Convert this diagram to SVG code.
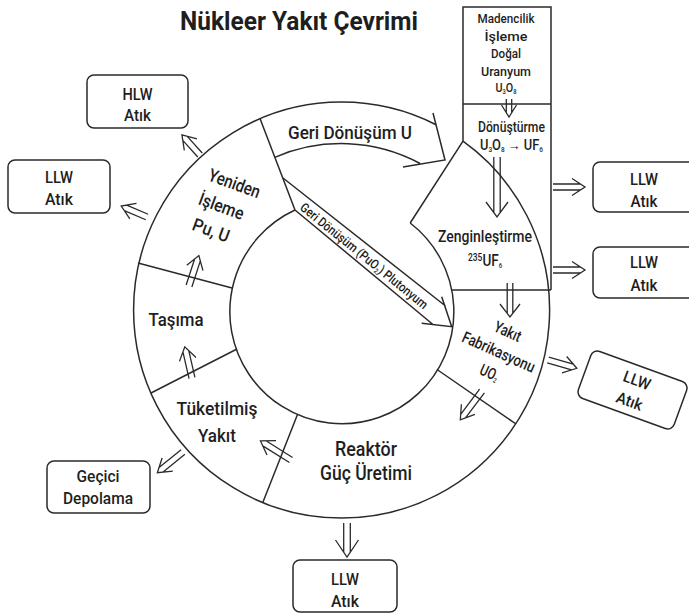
<svg xmlns="http://www.w3.org/2000/svg" xmlns:xlink="http://www.w3.org/1999/xlink" width="689" height="614" viewBox="0 0 689 614">
<style>
.ln{fill:none;stroke:#2a2a2a;stroke-width:1.5}
.box{fill:#fff;stroke:#2a2a2a;stroke-width:1.5}
.ar{fill:none;stroke:#2a2a2a;stroke-width:1.3}
text{font-family:Roboto,"Liberation Sans Narrow","Liberation Sans",Arial,sans-serif;font-weight:500;fill:#1e1e1e;text-anchor:middle}
.st{text-anchor:start}
.f13{font-size:13px}.f14{font-size:14px}.f16{font-size:16px}.f18{font-size:18px}.f19{font-size:18.5px}.f20{font-size:20px}
.sub{font-size:7px}
</style>
<defs>
<path id="a27" class="ar" d="M0,-3H22.4M0,3H22.4M14,-8.5L27,0L14,8.5"/>
<path id="a28" class="ar" d="M0,-3H23.4M0,3H23.4M15,-8.5L28,0L15,8.5"/>
<path id="a30" class="ar" d="M0,-3H25.4M0,3H25.4M17,-8.5L30,0L17,8.5"/>
<path id="a32" class="ar" d="M0,-3H27.4M0,3H27.4M19,-8.5L32,0L19,8.5"/>
<path id="a33" class="ar" d="M0,-3H28.4M0,3H28.4M20,-8.5L33,0L20,8.5"/>
<path id="a36" class="ar" d="M0,-3H31.4M0,3H31.4M23,-8.5L36,0L23,8.5"/>
</defs>
<rect width="689" height="614" fill="#fff"/>

<g id="title">
<text x="299" y="29.5" style="font-size:26px;font-weight:bold" textLength="238" lengthAdjust="spacingAndGlyphs">Nükleer Yakıt Çevrimi</text>
</g>

<g id="ring">
<path class="ln" d="M463,141.2 A208,208 0 1,1 436,124.75"/>
<path class="ln" d="M410.2,223 A112,112 0 1,1 295,210"/>
<path class="ln" d="M260,118.5 L295,210 M138,263 L232,288 M151,393 L237,349 M263,502 L297.5,414.5 M437,369.5 L516,424 M451.5,290 H551 M463,141.2 L410.2,223"/>
</g>

<g id="madencilik">
<path class="ln" d="M463,141.2 V7 H551 V290 M463,104 H551"/>
<text class="f13" x="506" y="23" textLength="57" lengthAdjust="spacingAndGlyphs">Madencilik</text>
<text class="f13" x="506" y="40.5" textLength="43" lengthAdjust="spacingAndGlyphs">İşleme</text>
<text class="f13" x="506" y="58" textLength="30" lengthAdjust="spacingAndGlyphs">Doğal</text>
<text class="f13" x="506" y="75.5" textLength="50" lengthAdjust="spacingAndGlyphs">Uranyum</text>
<text class="f13" x="506" y="92" textLength="21" lengthAdjust="spacingAndGlyphs">U<tspan class="sub" dy="2">3</tspan><tspan dy="-2">O</tspan><tspan class="sub" dy="2">8</tspan></text>
</g>

<g id="donusturme">
<text class="f14" x="511.5" y="132" textLength="67" lengthAdjust="spacingAndGlyphs">Dönüştürme</text>
<text class="f14" x="511.5" y="150" textLength="63" lengthAdjust="spacingAndGlyphs">U<tspan class="sub" dy="2">3</tspan><tspan dy="-2">O</tspan><tspan class="sub" dy="2">8</tspan><tspan dy="-2"> → UF</tspan><tspan class="sub" dy="2">6</tspan></text>
</g>

<g id="zenginlestirme">
<text class="f16" x="485" y="242" textLength="94" lengthAdjust="spacingAndGlyphs">Zenginleştirme</text>
<text class="f16" x="485" y="266" textLength="34" lengthAdjust="spacingAndGlyphs"><tspan style="font-size:10px" dy="-5">235</tspan><tspan dy="5">UF</tspan><tspan class="sub" dy="2">6</tspan></text>
</g>

<g id="yakit-fabrikasyonu" transform="translate(508,331) rotate(24)">
<text class="f16" x="0" y="6" textLength="28" lengthAdjust="spacingAndGlyphs">Yakıt</text>
<text class="f16" x="0" y="28.5" textLength="78" lengthAdjust="spacingAndGlyphs">Fabrikasyonu</text>
<text class="f16" x="0" y="51" textLength="19" lengthAdjust="spacingAndGlyphs">UO<tspan class="sub" dy="2">2</tspan></text>
</g>

<g id="reaktor">
<text class="f20" x="366" y="456" textLength="62" lengthAdjust="spacingAndGlyphs">Reaktör</text>
<text class="f20" x="366" y="480" textLength="92" lengthAdjust="spacingAndGlyphs">Güç Üretimi</text>
</g>

<g id="tuketilmis-yakit">
<text class="f18" x="217" y="415" textLength="81" lengthAdjust="spacingAndGlyphs">Tüketilmiş</text>
<text class="f18" x="217" y="442" textLength="38" lengthAdjust="spacingAndGlyphs">Yakıt</text>
</g>

<g id="tasima">
<text class="f18" x="176" y="326" textLength="55" lengthAdjust="spacingAndGlyphs">Taşıma</text>
</g>

<g id="yeniden-isleme" transform="translate(207,180) rotate(20)">
<text class="f18 st" x="0" y="0" textLength="54" lengthAdjust="spacingAndGlyphs">Yeniden</text>
<text class="f18 st" x="-1" y="26" textLength="47" lengthAdjust="spacingAndGlyphs">İşleme</text>
<text class="f18 st" x="2" y="52" textLength="38" lengthAdjust="spacingAndGlyphs">Pu, U</text>
</g>

<g id="hlw-atik">
<rect class="box" x="87" y="75" width="101" height="53" rx="7"/>
<text class="f16" x="137.5" y="100" textLength="30" lengthAdjust="spacingAndGlyphs">HLW</text>
<text class="f16" x="137.5" y="121" textLength="27" lengthAdjust="spacingAndGlyphs">Atık</text>
</g>

<g id="llw-atik-1">
<rect class="box" x="8" y="160" width="102" height="53" rx="7"/>
<text class="f16" x="59" y="183" textLength="28" lengthAdjust="spacingAndGlyphs">LLW</text>
<text class="f16" x="59" y="205" textLength="28" lengthAdjust="spacingAndGlyphs">Atık</text>
</g>

<g id="llw-atik-2">
<rect class="box" x="593" y="162" width="102" height="50" rx="7"/>
<text class="f16" x="644" y="185" textLength="28" lengthAdjust="spacingAndGlyphs">LLW</text>
<text class="f16" x="644" y="207" textLength="27" lengthAdjust="spacingAndGlyphs">Atık</text>
</g>

<g id="llw-atik-3">
<rect class="box" x="593" y="247" width="102" height="51" rx="7"/>
<text class="f16" x="644" y="268" textLength="28" lengthAdjust="spacingAndGlyphs">LLW</text>
<text class="f16" x="644" y="291" textLength="27" lengthAdjust="spacingAndGlyphs">Atık</text>
</g>

<g id="llw-atik-4" transform="translate(632.5,390) rotate(20)">
<rect class="box" x="-51" y="-25" width="102" height="50" rx="7"/>
<text class="f16" x="1" y="-5" textLength="28" lengthAdjust="spacingAndGlyphs">LLW</text>
<text class="f16" x="1" y="17" textLength="27" lengthAdjust="spacingAndGlyphs">Atık</text>
</g>

<g id="llw-atik-5">
<rect class="box" x="293" y="560" width="104" height="52" rx="7"/>
<text class="f16" x="345" y="585" textLength="28" lengthAdjust="spacingAndGlyphs">LLW</text>
<text class="f16" x="345" y="607" textLength="28" lengthAdjust="spacingAndGlyphs">Atık</text>
</g>

<g id="gecici-depolama">
<rect class="box" x="47" y="461" width="103" height="52" rx="7"/>
<text class="f16" x="98" y="482" textLength="43" lengthAdjust="spacingAndGlyphs">Geçici</text>
<text class="f16" x="98" y="504" textLength="70" lengthAdjust="spacingAndGlyphs">Depolama</text>
</g>

<g id="connectors">
<g id="geri-donusum-u">
<path class="ln" d="M274.8,157.4 A166.5,166.5 0 0,1 420,163.5 M433,113 L445,160 L403,167"/>
<text class="f19" x="350" y="139" textLength="124" lengthAdjust="spacingAndGlyphs">Geri Dönüşüm U</text>
</g>
<g id="geri-donusum-pu">
<path class="ln" d="M283,178 L445.5,306 M295,210 L433,324.5 M441.7,296.7 L451.7,326.7 L421.7,323.3"/>
<text class="f13" transform="translate(283,178) rotate(39)" x="112" y="14" textLength="160" lengthAdjust="spacingAndGlyphs">Geri Dönüşüm (PuO<tspan class="sub" dy="2">2</tspan><tspan dy="-2">) Plutonyum</tspan></text>
</g>
<path class="ar" transform="translate(509,99) rotate(90)" d="M0,-2.7H13.5M0,2.7H13.5M6,-7.5L18,0L6,7.5"/>
<path class="ar" transform="translate(497,157) rotate(90)" d="M0,-3.2H55.6M0,3.2H55.6M45,-11L60,0L45,11"/>
<path class="ar" transform="translate(510,283) rotate(90)" d="M0,-2.8H30.4M0,2.8H30.4M21,-10L34,0L21,10"/>
<use href="#a32" transform="translate(553,187)"/>
<use href="#a32" transform="translate(553,270)"/>
<use href="#a30" transform="translate(548,360) rotate(16)"/>
<use href="#a36" transform="translate(482,391) rotate(127)"/>
<path class="ar" transform="translate(347,523) rotate(90)" d="M0,-3.3H29M0,3.3H29M17,-11.5L34,0L17,11.5"/>
<use href="#a33" transform="translate(183,452) rotate(141)"/>
<use href="#a32" transform="translate(192,378) rotate(-103)"/>
<use href="#a32" transform="translate(189,286) rotate(-72)"/>
<use href="#a27" transform="translate(200,155) rotate(-132)"/>
<use href="#a28" transform="translate(147,217) rotate(-157)"/>
<use href="#a36" transform="translate(291,460) rotate(-148)"/>
</g>
</svg>
